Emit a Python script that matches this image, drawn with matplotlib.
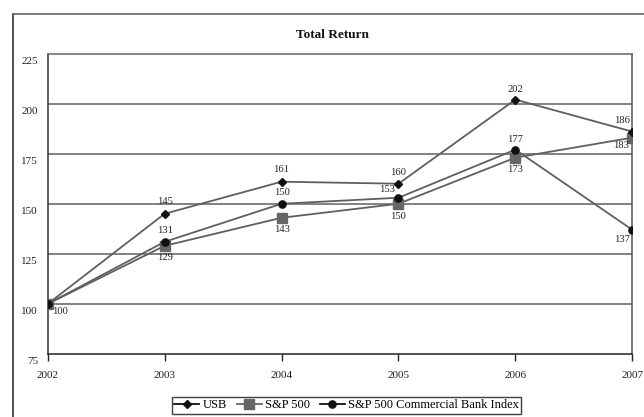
import matplotlib
matplotlib.use("Agg")
import matplotlib.pyplot as plt
from matplotlib.lines import Line2D
from matplotlib.transforms import ScaledTranslation

plt.rcParams['font.family'] = ['Liberation Serif', 'DejaVu Serif']

years = ['2002', '2003', '2004', '2005', '2006', '2007']
usb = [100, 145, 161, 160, 202, 186]
sp500 = [100, 129, 143, 150, 173, 183]
bank = [100, 131, 150, 153, 177, 137]
yticks = [75, 100, 125, 150, 175, 200, 225]

# label offsets in pixels (dx, dy)
usb_off = [None, (0, 12), (0, 12), (0, 11), (0, 10), (-10, 11)]
sp_off = [None, (0, -12), (0, -12), (0, -13), (0, -12), (-11, -8)]
bank_off = [(12, -8), (0, 11), (0, 11), (-11, 8), (0, 10), (-10, -10)]

fig = plt.figure(figsize=(6.44, 4.17), dpi=100)
ax = fig.add_axes([47.7/644, 63/417, (632.3-47.7)/644, (354-53.5)/417])

x = list(range(len(years)))
line_c = '#5f5f5f'
ax.plot(x, usb, color=line_c, lw=1.3, marker='D', ms=4.2, mfc='#111111', mec='#111111', zorder=4)
ax.plot(x, sp500, color=line_c, lw=1.3, marker='s', ms=6.5, mfc='#666666', mec='#666666', zorder=3)
ax.plot(x, bank, color=line_c, lw=1.3, marker='o', ms=5.2, mfc='#111111', mec='#111111', zorder=5)

def lab(vals, offs):
    for i, (v, o) in enumerate(zip(vals, offs)):
        if o is None:
            continue
        ax.annotate(str(v), (i, v), xytext=(o[0]*0.72, o[1]*0.72), textcoords='offset points',
                    ha='center', va='center', fontsize=7.6, color='#222222', zorder=6,
                    annotation_clip=False)

lab(usb, usb_off)
lab(sp500, sp_off)
lab(bank, bank_off)

ax.set_xlim(0, len(years)-1)
ax.set_ylim(75, 225)
ax.set_xticks(x)
ax.set_xticklabels(years)
ax.set_yticks(yticks)
ax.set_yticklabels([str(t) for t in yticks])
for t in yticks[1:-1]:
    ax.axhline(t, color='#777777', lw=1.3, zorder=1)

ax.tick_params(axis='x', direction='out', length=5, width=1, color='#222222', pad=7,
               labelsize=8, labelcolor='#222222')
ax.tick_params(axis='y', length=0, pad=7, labelsize=8, labelcolor='#222222')
for lbl in ax.get_yticklabels():
    lbl.set_transform(lbl.get_transform() + ScaledTranslation(0, -7/100, fig.dpi_scale_trans))

ax.spines['left'].set_color('#333333')
ax.spines['bottom'].set_color('#222222')
ax.spines['top'].set_color('#666666')
ax.spines['right'].set_color('#555555')
for s in ax.spines.values():
    s.set_linewidth(1.1)

# outer frame
fx = 12.7/644
fy = 1 - 14/417
fig.add_artist(Line2D([fx, fx], [0, fy], transform=fig.transFigure, color='#333333', lw=1.2))
fig.add_artist(Line2D([fx, 1], [fy, fy], transform=fig.transFigure, color='#666666', lw=1.2))

fig.text(332/644, 1 - 35/417, 'Total Return', ha='center', va='center',
         fontsize=9.5, fontweight='bold', color='#111111')

handles = [
    Line2D([], [], color='#111111', lw=1.3, marker='D', ms=4.2, mfc='#111111', mec='#111111'),
    Line2D([], [], color='#666666', lw=1.3, marker='s', ms=6.5, mfc='#666666', mec='#666666'),
    Line2D([], [], color='#111111', lw=1.3, marker='o', ms=5.2, mfc='#111111', mec='#111111'),
]
leg = fig.legend(handles, ['USB', 'S&P 500', 'S&P 500 Commercial Bank Index'],
                 loc='center', bbox_to_anchor=(346.5/644, 1 - 405.5/417), ncol=3,
                 fontsize=9, frameon=True, fancybox=False, edgecolor='#111111',
                 handlelength=2.0, handletextpad=0.25, columnspacing=0.8,
                 borderpad=0.2, borderaxespad=0)
leg.get_frame().set_linewidth(1.0)

fig.savefig('out.png', dpi=100)
